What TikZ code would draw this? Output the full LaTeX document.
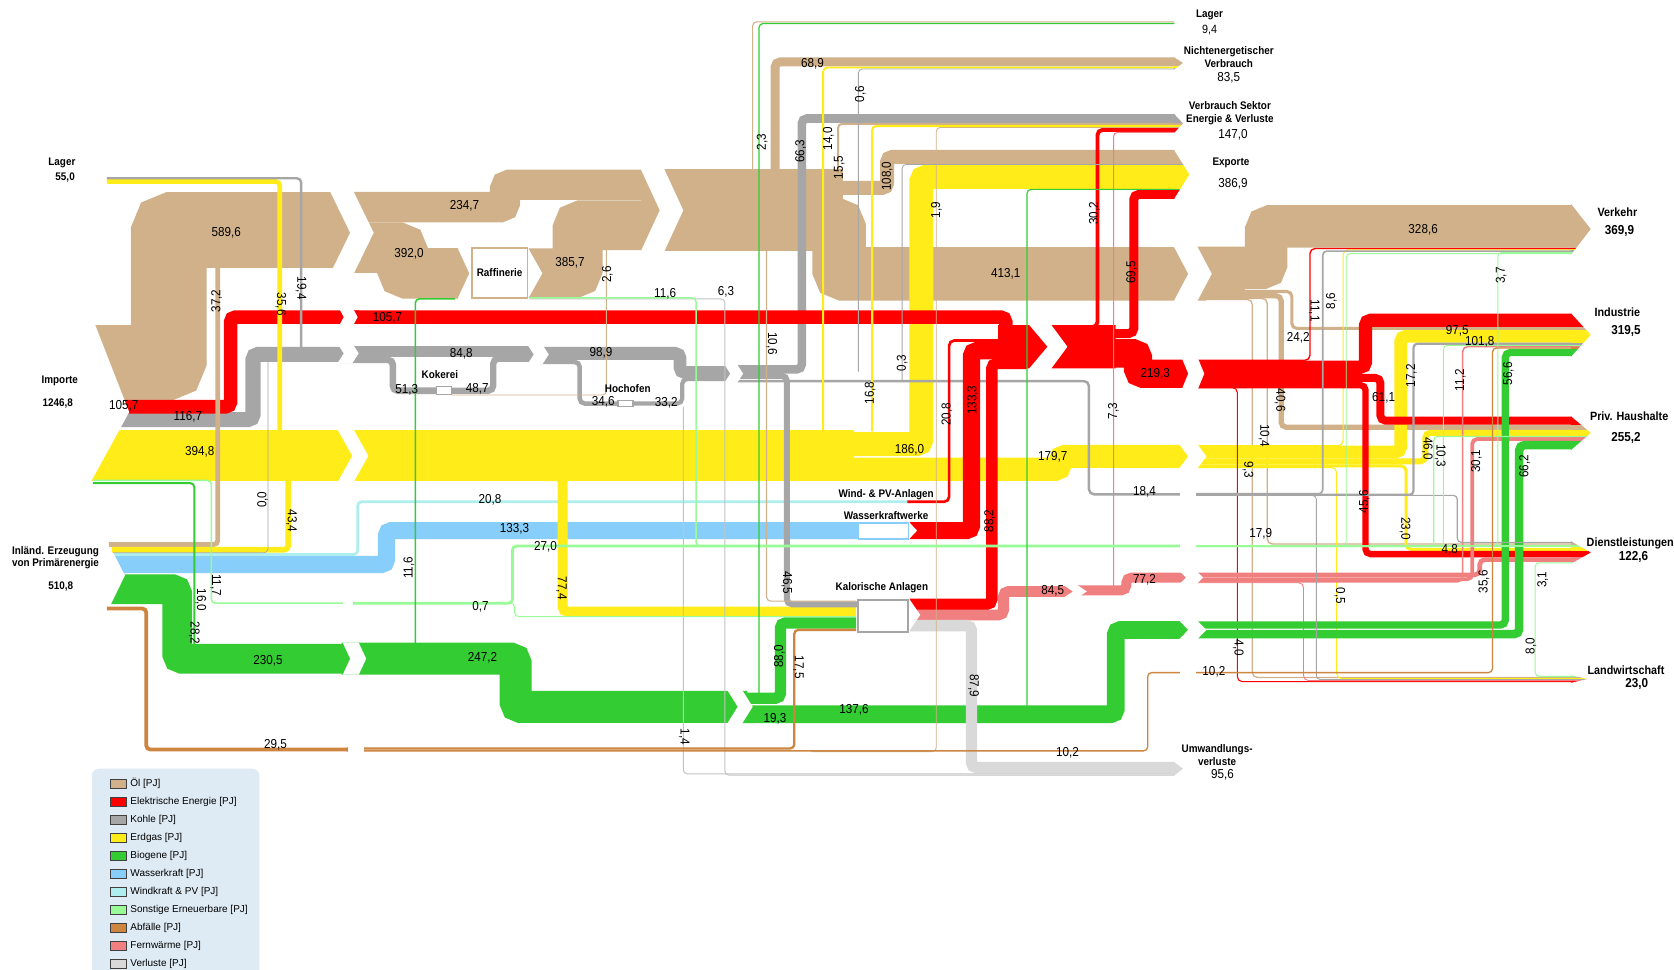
\documentclass[tikz,border=0pt]{standalone}
\usepackage{fontspec}
\setmainfont[FakeStretch=0.9]{Liberation Sans}
\newfontfamily\legfont{Liberation Sans}
\definecolor{oil}{RGB}{208,177,138}
\definecolor{elec}{RGB}{255,0,0}
\definecolor{coal}{RGB}{166,166,166}
\definecolor{gas}{RGB}{255,236,25}
\definecolor{bio}{RGB}{51,204,51}
\definecolor{hydro}{RGB}{135,206,250}
\definecolor{wind}{RGB}{175,238,238}
\definecolor{renew}{RGB}{152,251,152}
\definecolor{waste}{RGB}{205,133,63}
\definecolor{heat}{RGB}{240,128,128}
\definecolor{loss}{RGB}{217,217,217}
\definecolor{lossd}{RGB}{195,195,195}
\definecolor{legbg}{RGB}{222,235,245}
\tikzset{
  bw/.style={line width=#1*1.0676pt},
  band/.style={draw=#1, rounded corners=5pt},
  tl/.style={draw=#1, line width=1.1pt, rounded corners=4pt},
  num/.style={font=\fontsize{13}{13}\selectfont, inner sep=0pt},
  nlab/.style={font=\bfseries\fontsize{11}{12}\selectfont, inner sep=0pt, align=center},
  olab/.style={font=\bfseries\fontsize{11}{13}\selectfont, inner sep=0pt, align=center},
  slab/.style={font=\bfseries\fontsize{12}{13}\selectfont, inner sep=0pt},
  ovl/.style={font=\bfseries\fontsize{13}{13}\selectfont, inner sep=0pt},
}
\newcounter{lb}
\newcommand\lbl[3][]{\stepcounter{lb}\node[num,#1] (t\arabic{lb}) at (#2) {#3};}
\newcommand\sgap[5]{\fill[white] (#1,#2-#3/2-0.5) -- (#1+#5,#2-#3/2-0.5) -- (#1+#5+#4,#2) -- (#1+#5,#2+#3/2+0.5) -- (#1,#2+#3/2+0.5) -- (#1+#4,#2) -- cycle;}
\newcommand\stripe[4]{\fill[#1] (#2-3,#3) rectangle (#2+25,#4);}
\begin{document}
\begin{tikzpicture}[x=1.0676pt,y=-1.0676pt]
\useasboundingbox (0,0) rectangle (1568,908);
\fill[white] (0,0) rectangle (1568,908);

%% ---------------- OIL ----------------
\fill[oil] (600,158.5) rectangle (790,235);
\draw[band=oil,bw=71] (80,340) -- (158,340) -- (158,215.5) -- (336,215.5);
\draw[band=oil,bw=28.4] (315,194) -- (473,194) -- (473,173) -- (606,173);
\draw[band=oil,bw=47.4] (315,232) -- (377,232) -- (377,256) -- (429,256);
\fill[oil] (428.5,232.3) -- (439.5,256) -- (428.5,279.7) -- cycle;
\draw[band=oil,bw=46.7] (495,256) -- (541,256) -- (541,211) -- (606,211);
\draw[band=oil,bw=8.3] (690,165) -- (726,165) -- (726,58) -- (1100,58);
\draw[band=oil,bw=13.1] (690,176) -- (831,176) -- (831,147) -- (1100,147);
\draw[band=oil,bw=50] (700,210) -- (786,210) -- (786,256.5) -- (1130,256.5);
\fill[oil] (1110,231.5) rectangle (1166,281);
\draw[band=oil,bw=39.8] (1115,251) -- (1186,251) -- (1186,212) -- (1472,212);
\draw[band=oil,bw=2.9] (1115,273) -- (1210,273) -- (1210,307.6) -- (1472,307.6);
\draw[band=oil,bw=4.9] (1115,277) -- (1200,277) -- (1200,400.15) -- (1472,400.15);
\draw[band=oil,bw=1.3] (1115,279.5) -- (1187,279.5) -- (1187,509.5) -- (1472,509.5);
\draw[band=oil,bw=1.2] (1115,280.5) -- (1173,280.5) -- (1173,634.5) -- (1472,634.5);

%% ---------------- GAS ----------------
\draw[band=gas,bw=47.8] (80,427) -- (336,427);
\fill[gas] (320,403) rectangle (800,451);
\draw[band=gas,bw=22.5] (790,416) -- (863,416) -- (863,165.6) -- (1100,165.6);
\draw[band=gas,bw=21.7] (790,439.5) -- (993,439.5) -- (993,427.5) -- (1120,427.5);
\draw[band=gas,bw=1] (1115,417.5) -- (1258,417.5) -- (1258,234) -- (1472,234);
\draw[band=gas,bw=11.8] (1115,423.4) -- (1312,423.4) -- (1312,314.95) -- (1472,314.95);
\draw[band=gas,bw=5.6] (1115,432.1) -- (1335,432.1) -- (1335,405.4) -- (1472,405.4);
\draw[band=gas,bw=2.8] (1115,436.4) -- (1317,436.4) -- (1317,514.5) -- (1472,514.5);
\draw[band=gas,bw=1] (1115,438) -- (1252,438) -- (1252,635.5) -- (1472,635.5);

%% ---------------- HYDRO / WIND ----------------
\draw[band=hydro,bw=16.1] (100,528.7) -- (362,528.7) -- (362,497) -- (805,497);
\draw[tl=wind,line width=2.7pt] (106.8,519.4) -- (335,519.4) -- (335,470) -- (852,470);
\draw[band=gas,bw=9.4] (510,446) -- (527,446) -- (527,573) -- (802,573);

%% ---------------- BIOGENE ----------------
\draw[band=bio,bw=27.9] (100,552) -- (166,552) -- (166,617) -- (336,617);
\draw[band=bio,bw=30] (320,617) -- (483,617) -- (483,662) -- (700,662);
\draw[band=bio,bw=10.6] (690,654) -- (731,654) -- (731,583.5) -- (802,583.5);
\draw[band=bio,bw=16.6] (690,669) -- (1045,669) -- (1045,590) -- (1120,590);

%% ---------------- COAL ----------------
\draw[band=coal,bw=14.1] (80,393) -- (237,393) -- (237,332) -- (336,332);
\draw[band=coal,bw=10.3] (320,329.5) -- (500,329.5);
\draw[band=coal,bw=6.2] (320,337) -- (368,337) -- (368,366) -- (410,366);
\draw[band=coal,bw=5.9] (422,366) -- (462,366) -- (462,336) -- (500,336);
\draw[band=coal,bw=12] (505,331) -- (637,331) -- (637,349) -- (690,349);
\draw[band=coal,bw=4.2] (505,339) -- (543,339) -- (543,378) -- (580,378);
\draw[band=coal,bw=4] (592,378) -- (639,378) -- (639,355) -- (690,355);
\draw[band=coal,bw=2.3] (688,357) -- (1020,357) -- (1020,463) -- (1120,463);
\draw[band=coal,bw=5.6] (688,352) -- (737,352) -- (737,566) -- (803,566);
\draw[band=coal,bw=8] (688,346) -- (751,346) -- (751,111) -- (1100,111);

%% ---------------- ELECTRICITY ----------------
\draw[band=elec,bw=12.8] (80,381) -- (216,381) -- (216,297) -- (336,297);
\draw[band=elec,bw=12.8] (322,297) -- (942,297) -- (942,311) -- (962,311);
\draw[band=elec,bw=2.5] (850,470) -- (889,470) -- (889,319) -- (962,319);
\draw[band=elec,bw=16.1] (852,497) -- (910,497) -- (910,328.5) -- (962,328.5);
\draw[band=elec,bw=10.7] (852,566) -- (929,566) -- (929,340.5) -- (962,340.5);
\fill[elec] (935,304.5) -- (964,304.5) -- (981,324.75) -- (964,345) -- (935,345) -- cycle;
\fill[elec] (985,304.5) -- (1045,304.5) -- (1045,345) -- (985,345) -- (1000,324.75) -- cycle;
\draw[band=elec,bw=3.7] (1000,306.35) -- (1028,306.35) -- (1028,121.7) -- (1100,121.7);
\draw[band=elec,bw=8.4] (1000,312.4) -- (1062,312.4) -- (1062,182.1) -- (1100,182.1);
\draw[band=elec,bw=26.5] (1000,331) -- (1066,331) -- (1066,350) -- (1120,350);
\draw[band=elec,bw=1.3] (1115,337.5) -- (1227,337.5) -- (1227,232.8) -- (1472,232.8);
\draw[band=elec,bw=12.3] (1115,344) -- (1279,344) -- (1279,300) -- (1472,300);
\draw[band=elec,bw=7.4] (1115,354) -- (1293,354) -- (1293,394) -- (1472,394);
\draw[band=elec,bw=6] (1115,360.7) -- (1279,360.7) -- (1279,519) -- (1472,519);
\draw[band=elec,bw=1] (1115,363) -- (1159,363) -- (1159,638.5) -- (1472,638.5);

%% ---------------- DISTRICT HEAT / LOSSES ----------------
\draw[band=heat,bw=10.2] (852,576) -- (940,576) -- (940,554) -- (1010,554);
\draw[band=heat,bw=9.3] (1000,553) -- (1055,553) -- (1055,541) -- (1120,541);
\draw[band=heat,bw=4.3] (1115,538.5) -- (1386,538.5) -- (1386,524.2) -- (1472,524.2);
\draw[band=heat,bw=3.6] (1115,542.5) -- (1379,542.5) -- (1379,411.2) -- (1472,411.2);
\draw[band=heat,bw=1.4] (1115,545) -- (1370,545) -- (1370,324.7) -- (1472,324.7);
\draw[band=heat,bw=0.8] (1115,545.8) -- (1221,545.8) -- (1221,637.5) -- (1472,637.5);
\draw[band=loss,bw=10.6] (852,586) -- (910,586) -- (910,719) -- (1100,719);

%% right column biogene (on top)
\draw[band=bio,bw=6.8] (1115,585.5) -- (1410,585.5) -- (1410,330.1) -- (1472,330.1);
\draw[band=bio,bw=8] (1115,594) -- (1423,594) -- (1423,417) -- (1472,417);

%% ---------------- GAPS AND NOTCHES ----------------
\sgap{309}{218}{77}{19}{22}
\sgap{318}{297}{13.8}{4}{13}
\sgap{316}{331}{17.5}{6}{14}
\sgap{316}{427}{49}{14}{15}
\sgap{321}{617}{29}{7}{15}
\sgap{494}{332}{17.5}{6}{14}
\sgap{600}{197}{77}{18}{22}
\sgap{678}{350}{18}{6}{12}
\sgap{681}{662}{31}{10}{14}
\sgap{996}{554}{11}{9}{13}
\sgap{1099}{256.5}{52}{14}{22}
\sgap{1107}{350}{28}{6}{15}
\sgap{1104}{427.5}{23}{9}{17}
\sgap{1105}{541}{10.5}{6}{16}
\sgap{1104}{590}{17.5}{9}{17}
\fill[white] (70,300) -- (87.5,300) -- (121,386) -- (82,457) -- (70,457) -- cycle;
\fill[white] (90,505) -- (99.5,505) -- (117,539) -- (99.5,575) -- (90,575) -- cycle;
\fill[white] (494.5,232) -- (508,256) -- (494.5,280) -- cycle;
\fill[white] (851,488.5) -- (859,497) -- (851,505.5) -- cycle;
\fill[white] (851,560) -- (862,576) -- (851,592) -- cycle;

%% ---------------- THIN LINES ----------------
% oil
\draw[tl=oil] (705,165) -- (705,20.5) -- (1100,20.5);
\draw[tl=oil,line width=2pt] (785,180) -- (785,116) -- (1100,116);
\draw[tl=oil,line width=0.9pt] (1100,119.4) -- (877,119.4) -- (877,704) -- (760,704);
\draw[tl=oil,line width=4.8pt] (102,510) -- (204,510) -- (204,250);
\draw[tl=oil] (718,234) -- (718,563) -- (802,563);
\draw[tl=oil,line width=0.9pt] (568,234) -- (568,370) -- (423,370);
% gas
\draw[tl=gas,line width=4.6pt] (100,170) -- (262,170) -- (262,405);
\draw[tl=gas,line width=5.6pt] (104.6,514.9) -- (270,514.9) -- (270,450);
\draw[tl=gas,line width=1.8pt] (771,404) -- (771,63.3) -- (1100,63.3);
\draw[tl=gas,line width=2.1pt] (817,404) -- (817,118) -- (1100,118);
% coal
\draw[tl=coal,line width=2.4pt] (100,167) -- (282,167) -- (282,327);
\draw[tl=coal,line width=0.7pt] (106,517.8) -- (251,517.8) -- (251,339);
\draw[tl=coal,line width=0.8pt] (1100,64.6) -- (804,64.6) -- (804,348);
\draw[tl=coal,line width=0.8pt] (1100,154) -- (845,154) -- (845,356);
\draw[tl=coal,line width=1.6pt] (1115,462.5) -- (1239,462.5) -- (1239,235.2) -- (1472,235.2);
\draw[tl=coal,line width=2.2pt] (1115,463.5) -- (1324,463.5) -- (1324,321.9) -- (1472,321.9);
\draw[tl=coal,line width=0.9pt] (1115,464) -- (1233,464) -- (1233,636.5) -- (1472,636.5);
\draw[tl=coal,line width=1.2pt] (1115,464) -- (1365,464) -- (1365,508) -- (1472,508);
% losses
\draw[tl=lossd,line width=1pt] (496,280) -- (679,280) -- (679,726) -- (1100,726);
\draw[tl=lossd,line width=1pt] (640,381) -- (640,724.8) -- (1100,724.8);
% district heat
\draw[tl=heat,line width=1pt] (1043,549) -- (1043,124.1) -- (1100,124.1);
% renewables (light green)
\draw[tl=renew,line width=1.5pt] (87,450) -- (198,450) -- (198,565) -- (336,565);
\draw[tl=renew,line width=2.8pt] (325,565) -- (480,565) -- (480,511.5) -- (1120,511.5);
\draw[tl=renew,line width=1pt] (470,565) -- (482,565) -- (482,577.5) -- (802,577.5);
\draw[tl=renew,line width=1.5pt] (496,279) -- (652,279) -- (652,511.5) -- (700,511.5);
\draw[tl=renew,line width=2.4pt] (1115,511.5) -- (1472,511.5);
\draw[tl=renew,line width=0.9pt] (1115,511) -- (1261,511) -- (1261,237.5) -- (1472,237.5);
\draw[tl=renew,line width=0.9pt] (1115,511) -- (1403,511) -- (1403,236.4) -- (1472,236.4);
\draw[tl=renew,line width=1.2pt] (1115,512) -- (1343,512) -- (1343,408.8) -- (1472,408.8);
\draw[tl=renew,line width=0.9pt] (1115,512) -- (1352,512) -- (1352,323.5) -- (1472,323.5);
\draw[tl=renew,line width=1pt] (1472,527.2) -- (1438,527.2) -- (1438,633.5) -- (1472,633.5);
% biogene thin
\draw[tl=bio,line width=2pt] (87,452.5) -- (182,452.5) -- (182,604);
\draw[tl=bio,line width=1.2pt] (1100,22) -- (711,22) -- (711,650);
\draw[tl=bio,line width=1.2pt] (1100,177.4) -- (962,177.4) -- (962,662);
\draw[tl=bio,line width=1.5pt] (426,280) -- (389,280) -- (389,604);
% waste
\draw[tl=waste,line width=3.8pt] (100,570) -- (137,570) -- (137,702) -- (336,702);
\draw[tl=waste,line width=2.3pt] (325,701) -- (744,701) -- (744,590) -- (802,590);
\draw[tl=waste,line width=1.3pt] (325,703.3) -- (1075,703.3) -- (1075,630) -- (1120,630);
\draw[tl=waste,line width=1.3pt] (1115,630) -- (1398,630) -- (1398,326) -- (1472,326);
% cuts in thin lines
\fill[white] (321,560) rectangle (331,569);
\fill[white] (326,698) rectangle (341,706);
\fill[white] (1105,460) rectangle (1120,466);
\fill[white] (1105,508.5) rectangle (1120,514.5);
\fill[white] (1105,627.5) rectangle (1120,632.5);

%% ---------------- BOXES ----------------
\node[draw=oil, line width=1.6pt, fill=white, minimum width=55.5pt, minimum height=50pt, inner sep=0pt, nlab] (raff) at (468,255.5) {Raffinerie};
\node[draw=coal, line width=1.3pt, fill=white, minimum width=15pt, minimum height=8pt, inner sep=0pt] (kok) at (416,366) {};
\node[draw=coal, line width=1.3pt, fill=white, minimum width=15pt, minimum height=6pt, inner sep=0pt] (hoch) at (586,378) {};
\node[draw=hydro, line width=1.6pt, fill=white, minimum width=50pt, minimum height=16pt, inner sep=0pt] (wkw) at (827.5,497.5) {};
\node[draw=coal, line width=2pt, fill=white, minimum width=50pt, minimum height=32pt, inner sep=0pt] (kal) at (827.5,577) {};

%% ---------------- OUTPUT TIPS ----------------
\begin{scope}
\clip (1471.5,191) -- (1490,214.5) -- (1471.5,238.5) -- cycle;
\stripe{oil}{1472}{190}{232.1}\stripe{elec}{1472}{232.1}{233.4}\stripe{gas}{1472}{233.4}{234.6}
\stripe{coal}{1472}{234.6}{235.8}\stripe{renew}{1472}{235.8}{239}
\end{scope}
\begin{scope}
\clip (1471.5,293.5) -- (1490,313.7) -- (1471.5,334) -- cycle;
\stripe{elec}{1472}{293}{306.15}\stripe{oil}{1472}{306.15}{309.05}\stripe{gas}{1472}{309.05}{320.85}
\stripe{coal}{1472}{320.85}{322.95}\stripe{renew}{1472}{322.95}{324}\stripe{heat}{1472}{324}{325.4}
\stripe{waste}{1472}{325.4}{326.7}\stripe{bio}{1472}{326.7}{334.5}
\end{scope}
\begin{scope}
\clip (1471.5,390) -- (1490,405.5) -- (1471.5,421.5) -- cycle;
\stripe{elec}{1472}{389.5}{397.7}\stripe{oil}{1472}{397.7}{402.6}\stripe{gas}{1472}{402.6}{408.2}
\stripe{renew}{1472}{408.2}{409.4}\stripe{heat}{1472}{409.4}{413}\stripe{bio}{1472}{413}{422}
\end{scope}
\begin{scope}
\clip (1471.5,507) -- (1490,517.5) -- (1471.5,528) -- cycle;
\stripe{coal}{1472}{506.5}{508.8}\stripe{oil}{1472}{508.8}{510.2}\stripe{renew}{1472}{510.2}{512.8}
\stripe{gas}{1472}{512.8}{516}\stripe{elec}{1472}{516}{522}\stripe{heat}{1472}{522}{526.4}\stripe{renew}{1472}{526.4}{528.5}
\end{scope}
\begin{scope}
\clip (1471.5,632.5) -- (1487,636) -- (1471.5,639.5) -- cycle;
\stripe{renew}{1472}{632}{634}\stripe{oil}{1472}{634}{635}\stripe{gas}{1472}{635}{636}
\stripe{coal}{1472}{636}{637}\stripe{heat}{1472}{637}{638}\stripe{elec}{1472}{638}{640}
\end{scope}
\begin{scope}
\clip (1099.5,53.5) -- (1108,59) -- (1099.5,65.2) -- cycle;
\stripe{oil}{1100}{53}{62.2}\stripe{gas}{1100}{62.2}{64.1}\stripe{coal}{1100}{64.1}{65.5}
\end{scope}
\begin{scope}
\clip (1099.5,106.5) -- (1108,115.5) -- (1099.5,124.8) -- cycle;
\stripe{coal}{1100}{106}{115}\stripe{oil}{1100}{115}{117}\stripe{gas}{1100}{117}{119}
\stripe{oil}{1100}{119}{119.8}\stripe{elec}{1100}{119.8}{123.6}\stripe{heat}{1100}{123.6}{125}
\end{scope}
\begin{scope}
\clip (1099.5,140.3) -- (1114,163.5) -- (1099.5,186.5) -- cycle;
\stripe{oil}{1100}{140}{153.6}\stripe{coal}{1100}{153.6}{154.4}\stripe{gas}{1100}{154.4}{176.9}
\stripe{bio}{1100}{176.9}{177.9}\stripe{elec}{1100}{177.9}{187}
\end{scope}
\begin{scope}
\clip (1099.5,713.5) -- (1108,720) -- (1099.5,726.8) -- cycle;
\stripe{loss}{1100}{713}{727}
\end{scope}

%% ---------------- NODE / OUTPUT LABELS ----------------
\lbl[nlab]{58,153}{Lager}
\lbl[nlab]{61,166}{55,0}
\lbl[nlab]{56,357}{Importe}
\lbl[nlab]{54,378}{1246,8}
\lbl[nlab]{52,522}{Inländ. Erzeugung\\von Primärenergie}
\lbl[nlab]{57,549}{510,8}
\lbl[nlab]{412,351}{Kokerei}
\lbl[nlab]{588,364}{Hochofen}
\lbl[nlab]{830,463}{Wind- \& PV-Anlagen}
\lbl[nlab]{830,483}{Wasserkraftwerke}
\lbl[nlab]{826,550}{Kalorische Anlagen}
\lbl[olab]{1133,14}{Lager}
\lbl[font=\fontsize{12}{12}\selectfont]{1133,28}{9,4}
\lbl[olab]{1151,53}{Nichtenergetischer\\Verbrauch}
\lbl{1151,73}{83,5}
\lbl[olab]{1152,106}{Verbrauch Sektor\\Energie \& Verluste}
\lbl{1155,126}{147,0}
\lbl[olab]{1153,153}{Exporte}
\lbl{1155,172}{386,9}
\lbl[olab]{1140,707}{Umwandlungs-\\verluste}
\lbl{1145,726}{95,6}
\lbl[slab]{1515,199}{Verkehr}
\lbl[ovl]{1517,216}{369,9}
\lbl[slab]{1515,292}{Industrie}
\lbl[ovl]{1523,310}{319,5}
\lbl[slab]{1526,390}{Priv. Haushalte}
\lbl[ovl]{1523,410}{255,2}
\lbl[slab]{1527,509}{Dienstleistungen}
\lbl[ovl]{1530,522}{122,6}
\lbl[slab]{1523,628}{Landwirtschaft}
\lbl[ovl]{1533,641}{23,0}

%% ---------------- VALUE LABELS ----------------
\lbl{212,218}{589,6}
\lbl{116,380}{105,7}
\lbl{176,390}{116,7}
\lbl{187,423}{394,8}
\lbl[rotate=90]{203,282}{37,2}
\lbl[rotate=-90]{263,285}{35,6}
\lbl[rotate=-90]{282,270}{19,4}
\lbl{363,298}{105,7}
\lbl{383,238}{392,0}
\lbl{435,193}{234,7}
\lbl{534,246}{385,7}
\lbl{432,331}{84,8}
\lbl{563,330}{98,9}
\lbl{381,365}{51,3}
\lbl{447,364}{48,7}
\lbl{565,376}{34,6}
\lbl{624,377}{33,2}
\lbl{623,275}{11,6}
\lbl{680,273}{6,3}
\lbl[rotate=90]{569,257}{2,6}
\lbl[rotate=-90]{723,322}{10,6}
\lbl[rotate=90]{714,133}{2,3}
\lbl{761,60}{68,9}
\lbl[rotate=90]{750,142}{66,3}
\lbl[rotate=90]{776,130}{14,0}
\lbl[rotate=90]{786,157}{15,5}
\lbl[rotate=90]{806,88}{0,6}
\lbl[rotate=90]{831,165}{108,0}
\lbl[rotate=90]{877,197}{1,9}
\lbl[rotate=90]{1025,200}{30,2}
\lbl[rotate=90]{1060,255}{69,5}
\lbl{942,256}{413,1}
\lbl{1082,350}{219,3}
\lbl{852,421}{186,0}
\lbl{986,428}{179,7}
\lbl[rotate=90]{815,368}{16,8}
\lbl[rotate=90]{845,340}{0,3}
\lbl[rotate=90]{887,388}{20,8}
\lbl[rotate=90]{911,375}{133,3}
\lbl[rotate=90]{927,488}{88,2}
\lbl[rotate=90]{1043,385}{7,3}
\lbl{1072,461}{18,4}
\lbl{459,468}{20,8}
\lbl{482,495}{133,3}
\lbl{511,512}{27,0}
\lbl{450,568}{0,7}
\lbl[rotate=90]{383,532}{11,6}
\lbl[rotate=-90]{526,551}{77,4}
\lbl[rotate=-90]{737,546}{46,5}
\lbl[rotate=90]{246,468}{0,0}
\lbl[rotate=-90]{273,488}{43,4}
\lbl[rotate=-90]{202,548}{11,7}
\lbl[rotate=-90]{188,562}{16,0}
\lbl[rotate=-90]{182,593}{28,2}
\lbl{251,619}{230,5}
\lbl{452,616}{247,2}
\lbl[rotate=90]{730,615}{88,0}
\lbl[rotate=-90]{748,625}{17,5}
\lbl{726,673}{19,3}
\lbl{800,665}{137,6}
\lbl[rotate=-90]{912,642}{87,9}
\lbl{986,553}{84,5}
\lbl{1072,543}{77,2}
\lbl[rotate=-90]{641,690}{1,4}
\lbl{258,698}{29,5}
\lbl{1000,705}{10,2}
\lbl{1137,629}{10,2}
\lbl{1333,215}{328,6}
\lbl{1216,316}{24,2}
\lbl[rotate=-90]{1231,291}{11,1}
\lbl[rotate=90]{1247,282}{8,6}
\lbl[rotate=90]{1406,258}{3,7}
\lbl{1365,310}{97,5}
\lbl{1386,320}{101,8}
\lbl[rotate=90]{1322,352}{17,2}
\lbl[rotate=90]{1368,356}{11,2}
\lbl[rotate=90]{1413,350}{56,6}
\lbl{1296,373}{61,1}
\lbl[rotate=-90]{1199,375}{40,6}
\lbl[rotate=-90]{1184,408}{10,4}
\lbl[rotate=-90]{1169,440}{9,3}
\lbl[rotate=-90]{1337,420}{46,0}
\lbl[rotate=-90]{1349,427}{10,3}
\lbl[rotate=90]{1383,432}{30,1}
\lbl[rotate=90]{1428,437}{66,2}
\lbl[rotate=90]{1278,470}{45,6}
\lbl[rotate=-90]{1316,495}{23,0}
\lbl{1181,500}{17,9}
\lbl{1358,515}{4,8}
\lbl[rotate=90]{1390,545}{35,6}
\lbl[rotate=90]{1445,543}{3,1}
\lbl[rotate=-90]{1255,558}{0,5}
\lbl[rotate=-90]{1160,607}{4,0}
\lbl[rotate=90]{1434,605}{8,0}

%% ---------------- LEGEND ----------------
\fill[legbg, rounded corners=7pt] (86,720) rectangle (243,935);
\foreach \c/\t [count=\i from 0] in {oil/{Öl [PJ]}, elec/{Elektrische Energie [PJ]}, coal/{Kohle [PJ]}, gas/{Erdgas [PJ]}, bio/{Biogene [PJ]}, hydro/{Wasserkraft [PJ]}, wind/{Windkraft \& PV [PJ]}, renew/{Sonstige Erneuerbare [PJ]}, waste/{Abfälle [PJ]}, heat/{Fernwärme [PJ]}, loss/{Verluste [PJ]}}{
  \pgfmathsetmacro\yy{734+16.9*\i}
  \draw[fill=\c, draw=black!75, line width=0.7pt] (103,\yy-4) rectangle (118,\yy+4);
  \node[anchor=west, inner sep=0pt, font=\legfont\fontsize{10}{11}\selectfont] (leg\i) at (122,\yy) {\t};
}
\end{tikzpicture}
\end{document}
